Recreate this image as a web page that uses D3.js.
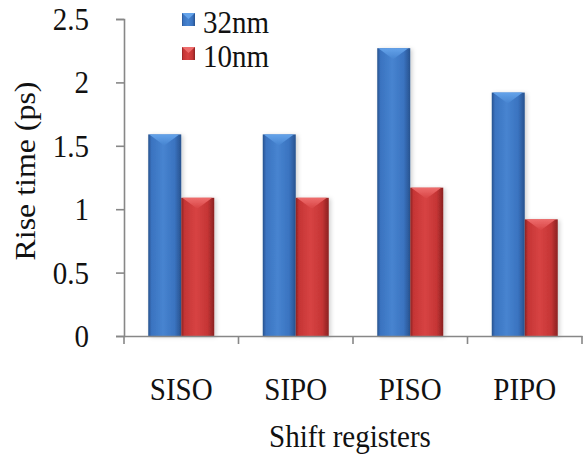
<!DOCTYPE html>
<html>
<head>
<meta charset="utf-8">
<script src="https://cdn.jsdelivr.net/npm/d3@7"></script>
<style>
  html, body { margin: 0; padding: 0; background: #fff; }
  svg { display: block; }
</style>
</head>
<body>
<svg id="chart" width="588" height="458"></svg>
<script>
// Rise time of shift registers at two technology nodes
const categories = ["SISO", "SIPO", "PISO", "PIPO"];
const seriesNames = ["32nm", "10nm"];
const rise32 = [1.59, 1.59, 2.27, 1.92];
const rise10 = [1.09, 1.09, 1.17, 0.92];
const yTicks = [0, 0.5, 1, 1.5, 2, 2.5];

const seriesValues = [rise32, rise10];
const palette = {
  "32nm": { dark: "#28528e", mid: "#3a73c0", light: "#4784d0", cap: "#64a3ea" },
  "10nm": { dark: "#8a2222", mid: "#c53535", light: "#d74343", cap: "#ee6d6d" }
};
const SERIF = "'Liberation Serif', 'Times New Roman', Times, serif";
const FS = 29, STRETCH = 1.1;

const svg = d3.select("#chart");
const plot = { left: 124, right: 582, top: 19, bottom: 336 };

const x = d3.scaleBand().domain(categories).range([plot.left, plot.right]).paddingInner(0).paddingOuter(0);
const xs = d3.scaleBand().domain(seriesNames).range([0, 66]);
const y = d3.scaleLinear().domain([0, 2.5]).range([plot.bottom, plot.top]);

// text placed at (tx, ty), slightly tall glyphs
function label(parent, tx, ty, str, anchor, rotate) {
  const t = parent.append("text")
    .attr("transform", `translate(${tx},${ty})${rotate ? " rotate(-90)" : ""} scale(${rotate ? STRETCH : 1},${rotate ? 1 : STRETCH})`)
    .attr("text-anchor", anchor || "start")
    .style("font-family", SERIF).style("font-size", FS + "px").style("fill", "#111")
    .text(str);
  return t;
}

const defs = svg.append("defs");
seriesNames.forEach((s, i) => {
  const c = palette[s];
  const g = defs.append("linearGradient").attr("id", "grad" + i)
    .attr("x1", 0).attr("x2", 1).attr("y1", 0).attr("y2", 0);
  [[0, c.dark], [0.1, c.mid], [0.45, c.light], [0.8, c.mid], [1, c.dark]].forEach(([o, col]) =>
    g.append("stop").attr("offset", o).attr("stop-color", col));
  const cg = defs.append("linearGradient").attr("id", "cap" + i)
    .attr("x1", 0).attr("x2", 0).attr("y1", 0).attr("y2", 1);
  cg.append("stop").attr("offset", 0).attr("stop-color", c.cap);
  cg.append("stop").attr("offset", 1).attr("stop-color", c.light);
});
const shadow = defs.append("filter").attr("id", "shadow")
  .attr("x", "-20%").attr("y", "-10%").attr("width", "150%").attr("height", "130%");
shadow.append("feDropShadow").attr("dx", 2).attr("dy", 1).attr("stdDeviation", 2)
  .attr("flood-color", "#000").attr("flood-opacity", 0.18);

// bars
const bw = xs.bandwidth();
const groups = svg.append("g").selectAll("g").data(categories).join("g")
  .attr("transform", d => `translate(${x(d) + (x.bandwidth() - 66) / 2},0)`);

seriesNames.forEach((s, si) => {
  const bar = groups.append("g").attr("filter", "url(#shadow)");
  bar.append("rect")
    .attr("x", xs(s))
    .attr("y", (d, i) => y(seriesValues[si][i]))
    .attr("width", bw)
    .attr("height", (d, i) => plot.bottom - y(seriesValues[si][i]))
    .attr("fill", `url(#grad${si})`);
  // bevelled top facet
  bar.append("path")
    .attr("d", (d, i) => {
      const t = y(seriesValues[si][i]);
      const x0 = xs(s) + 1, x1 = xs(s) + bw - 2;
      return `M${x0},${t}L${x1},${t}L${(x0 + x1) / 2},${t + 11}Z`;
    })
    .attr("fill", `url(#cap${si})`);
});

// y axis
const yAxis = d3.axisLeft(y).tickValues(yTicks).tickSize(8).tickFormat("");
const gy = svg.append("g").attr("transform", `translate(${plot.left},0)`).call(yAxis);
gy.select(".domain").attr("stroke", "#878787").attr("stroke-width", 1.6);
gy.selectAll(".tick line").attr("stroke", "#878787").attr("stroke-width", 1.6);
gy.selectAll(".tick text").remove();
const yFmt = d3.format("~g");
yTicks.forEach(v => label(svg, 89, y(v) + 11, yFmt(v), "end"));

// x axis
const xAxis = d3.axisBottom(x).tickSize(0).tickFormat("");
const gx = svg.append("g").attr("transform", `translate(0,${plot.bottom})`).call(xAxis);
gx.select(".domain").attr("stroke", "#878787").attr("stroke-width", 1.6);
gx.selectAll(".tick").remove();
// tick marks at category boundaries
const bounds = categories.map(c => x(c)).concat([x(categories[categories.length - 1]) + x.bandwidth()]);
gx.selectAll("line.sep").data(bounds).join("line").attr("class", "sep")
  .attr("x1", d => d).attr("x2", d => d).attr("y1", 0).attr("y2", 8)
  .attr("stroke", "#878787").attr("stroke-width", 1.6);
categories.forEach(c => label(svg, x(c) + x.bandwidth() / 2, 400, c, "middle"));

// axis titles
label(svg, (plot.left + plot.right) / 2 - 3, 447, "Shift registers", "middle");
label(svg, 35, 171, "Rise time (ps)", "middle", true);

// legend
const legend = svg.append("g");
seriesNames.forEach((s, i) => {
  const ly = 13 + i * 34;
  legend.append("rect").attr("x", 182).attr("y", ly).attr("width", 13).attr("height", 13)
    .attr("fill", `url(#grad${i})`);
  legend.append("path")
    .attr("d", `M182,${ly}L195,${ly}L188.5,${ly + 6}Z`).attr("fill", palette[s].cap);
  label(legend, 203, ly + 20, s, "start");
});
</script>
</body>
</html>
